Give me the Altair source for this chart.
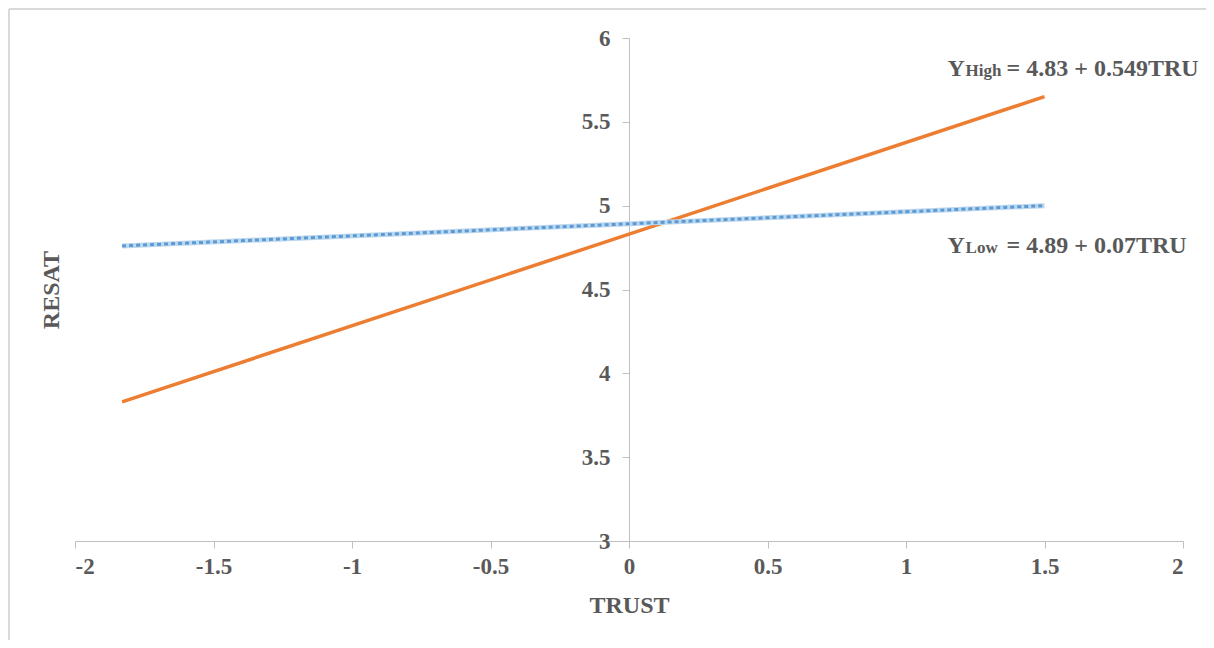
import altair as alt
import pandas as pd

# ---- data ----
trust = [-1.83, 1.5]
resat_high = [3.83, 5.65]
resat_low = [4.76, 5.00]
x_ticks = [-2, -1.5, -1, -0.5, 0, 0.5, 1, 1.5, 2]
y_ticks = [3, 3.5, 4, 4.5, 5, 5.5, 6]
label_x = [1.15, 1.15]
label_y = [5.773, 4.718]
label_pre = ["Y", "Y"]
label_sub = ["High", "Low"]
label_rest = ["= 4.83 + 0.549TRU", "= 4.89 + 0.07TRU"]

high_df = pd.DataFrame({"TRUST": trust, "RESAT": resat_high})
low_df = pd.DataFrame({"TRUST": trust, "RESAT": resat_low})
lab_df = pd.DataFrame({"x": label_x, "y": label_y, "pre": label_pre,
                       "sub": label_sub, "rest": label_rest})

FONT = "Liberation Serif"
GRAY = "#595959"
AXIS_GRAY = "#BFBFBF"
W, H = 1108, 503

xs = alt.Scale(domain=[-2, 2], nice=False, zero=False)
ys = alt.Scale(domain=[3, 6], nice=False, zero=False)

x_axis = alt.Axis(
    values=x_ticks, labelExpr="'' + datum.value", grid=False,
    domainColor=AXIS_GRAY, tickColor=AXIS_GRAY, tickSize=7,
    labelFont=FONT, labelFontSize=23, labelFontWeight="bold", labelColor=GRAY,
    labelPadding=7, title="TRUST", titleFont=FONT, titleFontSize=24,
    titleFontWeight="bold", titleColor=GRAY, titleY=64, titleBaseline="middle",
)
y_axis = alt.Axis(
    values=y_ticks, labelExpr="'' + datum.value", grid=False, offset=-554,
    domainColor=AXIS_GRAY, tickColor=AXIS_GRAY, tickSize=7,
    labelFont=FONT, labelFontSize=23, labelFontWeight="bold", labelColor=GRAY,
    labelPadding=12, title="RESAT", titleFont=FONT, titleFontSize=24,
    titleFontWeight="bold", titleColor=GRAY, titleX=-578, titleY=H / 2,
    titleAngle=270, titleAlign="center", titleBaseline="middle",
)

base_x = alt.X("TRUST:Q", scale=xs, axis=x_axis)
base_y = alt.Y("RESAT:Q", scale=ys, axis=y_axis)

low_under = alt.Chart(low_df).mark_line(color="#BDD7EE", strokeWidth=5).encode(
    x=alt.X("TRUST:Q", scale=xs), y=alt.Y("RESAT:Q", scale=ys))
low_dots = alt.Chart(low_df).mark_line(color="#5B9BD5", strokeWidth=3,
                                       strokeDash=[4, 3]).encode(
    x=alt.X("TRUST:Q", scale=xs), y=alt.Y("RESAT:Q", scale=ys))
high_line = alt.Chart(high_df).mark_line(color="#ED7D31", strokeWidth=3.5).encode(
    x=base_x, y=base_y)

txt = dict(font=FONT, fontWeight="bold", color=GRAY, align="left",
           baseline="alphabetic")
t_pre = alt.Chart(lab_df).mark_text(fontSize=24, **txt).encode(
    x=alt.X("x:Q", scale=xs), y=alt.Y("y:Q", scale=ys), text="pre:N")
t_sub = alt.Chart(lab_df).mark_text(fontSize=17, dx=18, **txt).encode(
    x=alt.X("x:Q", scale=xs), y=alt.Y("y:Q", scale=ys), text="sub:N")
t_rest = alt.Chart(lab_df).mark_text(fontSize=24, dx=59, **txt).encode(
    x=alt.X("x:Q", scale=xs), y=alt.Y("y:Q", scale=ys), text="rest:N")

frame_df = pd.DataFrame({"k": [0]})
frame_top = alt.Chart(frame_df).mark_rule(color="#D9D9D9", strokeWidth=2).encode(
    x=alt.value(-66), x2=alt.value(W + 60), y=alt.value(-29))
frame_left = alt.Chart(frame_df).mark_rule(color="#D9D9D9", strokeWidth=2).encode(
    x=alt.value(-66), y=alt.value(-29), y2=alt.value(H + 110))

chart = alt.layer(
    frame_top, frame_left, high_line, low_under, low_dots, t_pre, t_sub, t_rest
).properties(
    width=W, height=H,
    autosize=alt.AutoSizeParams(type="none"),
    padding={"left": 67, "top": 30, "right": 23, "bottom": 99},
    background="white",
).configure_view(stroke=None)

chart.save("out.html", embed_options={"renderer": "svg", "actions": False})
